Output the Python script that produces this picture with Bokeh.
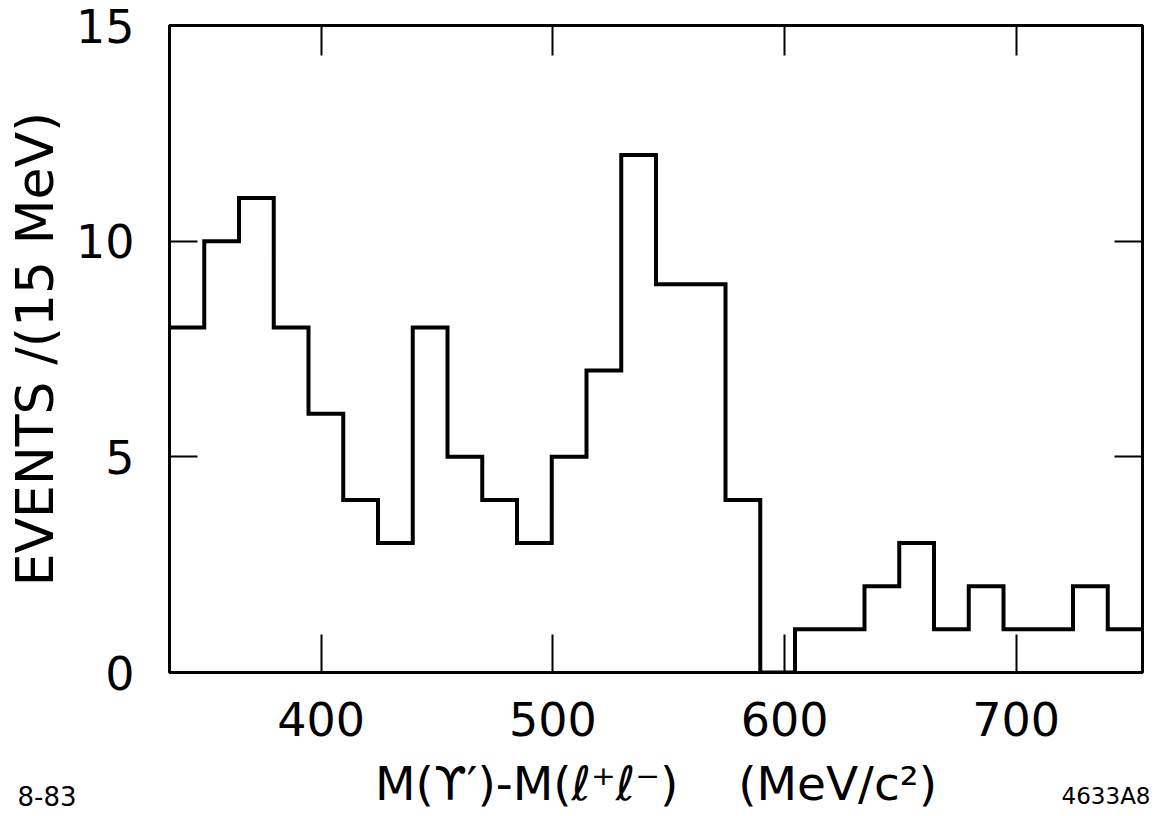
from bokeh.plotting import figure
from bokeh.models import Range1d, LinearAxis, FixedTicker, Title
from bokeh.embed import file_html
from bokeh.resources import INLINE

# ---- data ----
bin_edges = [334.5, 349.5, 364.5, 379.5, 394.5, 409.5, 424.5, 439.5, 454.5,
             469.5, 484.5, 499.5, 514.5, 529.5, 544.5, 559.5, 574.5, 589.5,
             604.5, 619.5, 634.5, 649.5, 664.5, 679.5, 694.5, 709.5, 724.5,
             739.5, 754.5]
counts = [8, 10, 11, 8, 6, 4, 3, 8, 5, 4, 3, 5, 7, 12, 9, 9, 4, 0,
          1, 1, 2, 3, 1, 2, 1, 1, 2, 1]
x_ticks = [400, 500, 600, 700]
y_ticks = [0, 5, 10, 15]
y_label = "EVENTS /(15 MeV)"
x_label = ("M(\u03d2\u2032)-M(\u2113\u207a\u2113\u207b)"
           "\u00a0\u00a0\u00a0\u00a0(MeV/c\u00b2)")
left_note = "8-83"
right_note = "4633A8"

FONT = "DejaVu Sans"
W, H = 1154, 816
FR_L, FR_R, FR_T, FR_B = 169, 1142, 25, 672
X0, X1 = bin_edges[0], bin_edges[-1]
Y0, Y1 = 0, 15

p = figure(width=W, height=H,
           x_range=Range1d(X0, X1), y_range=Range1d(Y0, Y1),
           output_backend="svg", toolbar_location=None,
           min_border_left=FR_L, min_border_right=W - FR_R,
           min_border_top=FR_T, min_border_bottom=H - FR_B)
p.background_fill_color = "white"
p.border_fill_color = "white"
p.outline_line_color = "black"
p.outline_line_width = 3
p.xgrid.visible = False
p.ygrid.visible = False

# bottom axis
xa = p.xaxis[0]
xa.ticker = FixedTicker(ticks=x_ticks)
xa.major_tick_in = 38
xa.major_tick_out = 0
xa.minor_tick_line_color = None
xa.major_tick_line_width = 2
xa.axis_line_width = 3
xa.major_label_text_font = FONT
xa.major_label_text_font_size = "46px"
xa.major_label_text_color = "black"
xa.major_label_standoff = 29
xa.axis_label = x_label
xa.axis_label_text_font = FONT
xa.axis_label_text_font_size = "47px"
xa.axis_label_text_font_style = "normal"
xa.axis_label_text_color = "black"
xa.axis_label_standoff = 17

# left axis
ya = p.yaxis[0]
ya.ticker = FixedTicker(ticks=y_ticks)
ya.major_tick_in = 28
ya.major_tick_out = 0
ya.minor_tick_line_color = None
ya.major_tick_line_width = 2
ya.axis_line_width = 3
ya.major_label_text_font = FONT
ya.major_label_text_font_size = "46px"
ya.major_label_text_color = "black"
ya.major_label_standoff = 35
ya.axis_label = y_label
ya.axis_label_text_font = FONT
ya.axis_label_text_font_size = "52px"
ya.axis_label_text_font_style = "normal"
ya.axis_label_text_color = "black"
ya.axis_label_standoff = 8

# right axis (ticks only)
ra = LinearAxis(ticker=FixedTicker(ticks=y_ticks), major_tick_in=28,
                major_tick_out=0, minor_tick_line_color=None,
                major_tick_line_width=2, axis_line_width=3,
                major_label_overrides={t: "" for t in y_ticks},
                major_label_text_font_size="10px", major_label_standoff=0)
p.add_layout(ra, "right")

# top axis (ticks only)
ta = LinearAxis(ticker=FixedTicker(ticks=x_ticks), major_tick_in=30,
                major_tick_out=0, minor_tick_line_color=None,
                major_tick_line_width=2, axis_line_width=3,
                major_label_overrides={t: "" for t in x_ticks},
                major_label_text_font_size="10px", major_label_standoff=0)
p.add_layout(ta, "above")

# histogram
p.step(x=bin_edges, y=counts + [counts[-1]], mode="after",
       line_color="black", line_width=4, line_join="miter")

# corner notes as titles lifted into the x-label row
p.add_layout(Title(text=right_note, align="right", offset=FR_R - 1150,
                   vertical_align="top", standoff=-61,
                   text_font=FONT, text_font_size="23px",
                   text_font_style="normal", text_color="black"), "below")
p.add_layout(Title(text=left_note, align="left", offset=17 - FR_L,
                   vertical_align="top", standoff=-56,
                   text_font=FONT, text_font_size="26px",
                   text_font_style="normal", text_color="black"), "below")

open("out.html", "w").write(file_html(p, INLINE))
